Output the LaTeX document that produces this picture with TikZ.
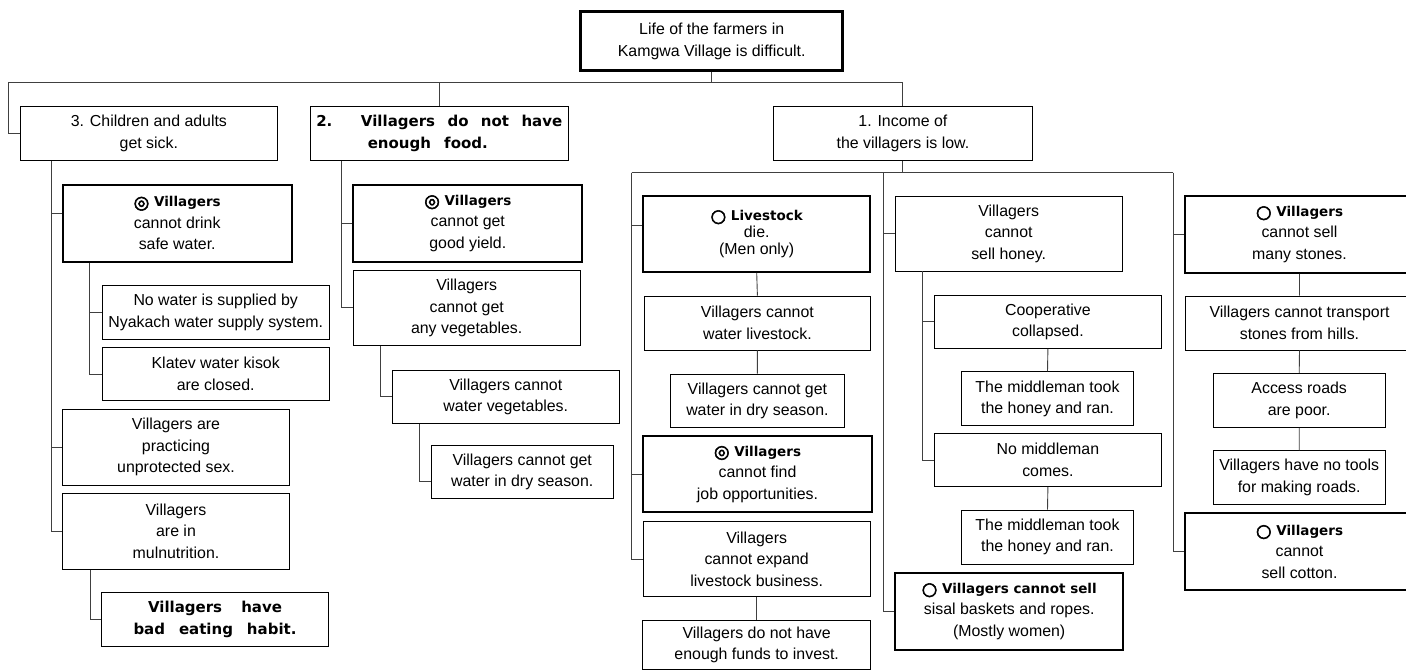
\documentclass[tikz,border=0pt]{standalone}
\usepackage{fontspec}
\setmainfont{Liberation Sans}
\newfontfamily\gothic{DejaVu Sans}
\newfontfamily\ringfont{DejaVu Sans}[FakeBold=3]
\newcommand{\bld}[1]{{\gothic\bfseries\fontsize{13.5}{21.5}\selectfont #1}}
\newcommand{\dbl}{\raisebox{-1.5pt}{\ringfont\fontsize{18}{21.5}\selectfont ◎}}
\newcommand{\sgl}{\raisebox{-1.5pt}{\ringfont\fontsize{18}{21.5}\selectfont ○}}
\newcommand{\wide}[2]{{\gothic\bfseries\fontsize{15}{21.5}\selectfont\makebox[#1][s]{#2}}}
\tikzset{
  cause/.style={draw, line width=0.9pt, align=center, inner sep=0pt,
    font=\fontsize{15.9}{21.5}\selectfont},
  core/.style={cause, line width=2.2pt},
  link/.style={draw=black!75, line width=0.9pt},
  sz/.style 2 args={minimum width=#1, minimum height=#2},
}
\begin{document}
\begin{tikzpicture}[x=1pt,y=-1pt]
\useasboundingbox (0,0) rectangle (1406,671);
\def\dx{28pt}

\node[cause, line width=3pt, sz={262pt}{59pt}] (life) at (711.7,41.2)
  {Life of the farmers in\\Kamgwa Village is difficult.};

% three main problems
\node[cause, sz={257.7pt}{54.7pt}] (sick) at (148.9,133.4) {3. Children and adults\\get sick.};
\node[cause, sz={258pt}{54.7pt}] (food) at (439.3,133.4)
  {\wide{246pt}{2. Villagers do not have}\\\wide{120pt}{enough food.}\hspace*{23pt}};
\node[cause, sz={259pt}{54.7pt}] (income) at (902.9,133.4) {1. Income of\\the villagers is low.};

\coordinate (busL) at (8,82);
\draw[link] (life.south) -- (life.south |- busL);
\draw[link] (busL) -| (income.north);
\draw[link] (busL) -| (food.north);
\draw[link] (busL) |- (sick.west);

% 3. sickness
\node[core, sz={229pt}{76.7pt}] (water) at (177.2,223.4) {\bld{\dbl\ Villagers}\\cannot drink\\safe water.};
\node[cause, sz={226.7pt}{53.6pt}] (nyakach) at (215.7,312.5) {No water is supplied by\\Nyakach water supply system.};
\node[cause, sz={226.7pt}{53.4pt}] (kiosk) at (215.7,374) {Klatev water kisok\\are closed.};
\node[cause, sz={226.6pt}{75.7pt}] (sex) at (176,447.2) {Villagers are\\practicing\\unprotected sex.};
\node[cause, sz={226.6pt}{76pt}] (nutrition) at (176,531.3) {Villagers\\are in\\mulnutrition.};
\node[cause, sz={226.6pt}{53.3pt}] (habit) at (215,619.4)
  {\wide{134pt}{Villagers have}\\\wide{163pt}{bad eating habit.}};

\draw[link] ([xshift=32pt]sick.south west) |- ([yshift=10pt]water.west);
\foreach \n in {sex,nutrition}
  \draw[link] ([xshift=32pt]sick.south west) |- (\n.west);
\foreach \n in {nyakach,kiosk}
  \draw[link] ([xshift=\dx]water.south west) |- (\n.west);
\draw[link] ([xshift=\dx]nutrition.south west) |- (habit.west);

% 2. food
\node[core, sz={229pt}{76.7pt}] (yield) at (467.8,223.4) {\bld{\dbl\ Villagers}\\cannot get\\good yield.};
\node[cause, sz={226.7pt}{75.7pt}] (veg) at (466.7,307.9) {Villagers\\cannot get\\any vegetables.};
\node[cause, sz={227pt}{53.3pt}] (waterveg) at (505.8,396.7) {Villagers cannot\\water vegetables.};
\node[cause, sz={182.3pt}{53.5pt}] (dryveg) at (522.2,471.8) {Villagers cannot get\\water in dry season.};

\foreach \n in {yield,veg}
  \draw[link] ([xshift=31.4pt]food.south west) |- (\n.west);
\draw[link] ([xshift=\dx]veg.south west) |- (waterveg.west);
\draw[link] ([xshift=\dx]waterveg.south west) |- ([yshift=-10pt]dryveg.west);

% 1. income
\node[core, sz={226.7pt}{75.7pt}, font=\fontsize{15.9}{17}\selectfont] (livestock) at (756.7,233.9)
  {\bld{\sgl\ Livestock}\\die.\\(Men only)};
\node[cause, sz={226.7pt}{54pt}] (waterlive) at (757.4,323) {Villagers cannot\\water livestock.};
\node[cause, sz={173.3pt}{53.3pt}] (drylive) at (757.4,400.7) {Villagers cannot get\\water in dry season.};
\node[core, sz={228.4pt}{76.3pt}] (jobs) at (757.5,474.2) {\bld{\dbl\ Villagers}\\cannot find\\job opportunities.};
\node[cause, sz={226.7pt}{75pt}] (expand) at (756.7,559.2) {Villagers\\cannot expand\\livestock business.};
\node[cause, sz={228pt}{48.8pt}] (funds) at (756.7,645.1) {Villagers do not have\\enough funds to invest.};

\node[cause, sz={227.3pt}{75pt}] (honey) at (1008.7,233.5) {Villagers\\cannot\\sell honey.};
\node[cause, sz={227.7pt}{53.3pt}] (coop) at (1047.9,321.7) {Cooperative\\collapsed.};
\node[cause, sz={171.6pt}{54pt}] (ran1) at (1047.5,398.7) {The middleman took\\the honey and ran.};
\node[cause, sz={227.7pt}{53.4pt}] (nomiddle) at (1047.9,460) {No middleman\\comes.};
\node[cause, sz={171.6pt}{54pt}] (ran2) at (1047.5,537) {The middleman took\\the honey and ran.};
\node[core, sz={228.3pt}{77.3pt}] (sisal) at (1009.2,611.4)
  {\bld{\sgl\ Villagers cannot sell}\\sisal baskets and ropes.\\(Mostly women)};

\node[core, sz={229pt}{76.7pt}] (stones) at (1299.5,234.4) {\bld{\sgl\ Villagers}\\cannot sell\\many stones.};
\node[cause, sz={229pt}{54pt}] (transport) at (1299.5,323) {Villagers cannot transport\\stones from hills.};
\node[cause, sz={171.7pt}{54pt}] (roads) at (1299.2,400.3) {Access roads\\are poor.};
\node[cause, sz={171.7pt}{53.6pt}] (tools) at (1299.2,477.5) {Villagers have no tools\\for making roads.};
\node[core, sz={229pt}{76.7pt}] (cotton) at (1299.5,551.7) {\bld{\sgl\ Villagers}\\cannot\\sell cotton.};

\coordinate (busM) at (631.7,172.7);
\coordinate (trunkH) at (883.3,172.7);
\coordinate (trunkS) at (1173.3,172.7);
\draw[link] (income.south) |- (busM);
\draw[link] (busM) -- (trunkS);
\draw[link] (busM) |- ([yshift=8pt]livestock.west);
\foreach \n in {jobs,expand}
  \draw[link] (busM) |- (\n.west);
\foreach \n in {honey,sisal}
  \draw[link] (trunkH) |- (\n.west);
\foreach \n in {stones,cotton}
  \draw[link] (trunkS) |- (\n.west);

\draw[link] (livestock.south) -- (waterlive.north) (waterlive.south) -- (drylive.north);
\draw[link] (expand.south) -- (funds.north);
\foreach \n in {coop,nomiddle}
  \draw[link] ([xshift=\dx]honey.south west) |- (\n.west);
\draw[link] (coop.south) -- (ran1.north) (nomiddle.south) -- (ran2.north);
\draw[link] (stones.south) -- (transport.north) (transport.south) -- (roads.north)
  (roads.south) -- (tools.north);
\end{tikzpicture}
\end{document}
